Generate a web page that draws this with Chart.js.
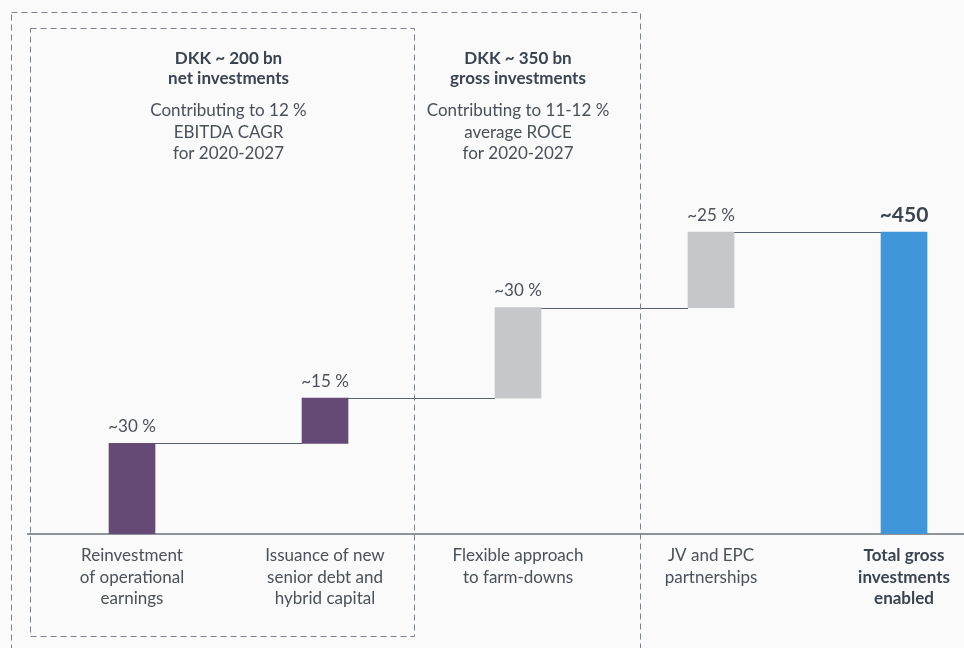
<!DOCTYPE html>
<html>
<head>
<meta charset="utf-8">
<script src="https://cdn.jsdelivr.net/npm/chart.js@4"></script>
<style>
  html, body { margin: 0; padding: 0; background: #fafafb; overflow: hidden; }
  #wrap { position: relative; width: 964px; height: 648px; }
</style>
</head>
<body>
<div id="wrap"><canvas id="c" width="964" height="648"></canvas></div>
<script>
// ---- data ----
const categories = [
  ['Reinvestment', 'of operational', 'earnings'],
  ['Issuance of new', 'senior debt and', 'hybrid capital'],
  ['Flexible approach', 'to farm-downs'],
  ['JV and EPC', 'partnerships'],
  ['Total gross', 'investments', 'enabled']
];
const barLabels = ['~30 %', '~15 %', '~30 %', '~25 %', '~450'];
const barLow  = [0, 135, 202.5, 337.5, 0];
const barHigh = [135, 202.5, 337.5, 450, 450];
const headerLeft  = ['DKK ~ 200 bn', 'net investments'];
const noteLeft    = ['Contributing to 12 %', 'EBITDA CAGR', 'for 2020-2027'];
const headerRight = ['DKK ~ 350 bn', 'gross investments'];
const noteRight   = ['Contributing to 11-12 %', 'average ROCE', 'for 2020-2027'];

const barColors = ['#644a74', '#644a74', '#c5c7cb', '#c5c7cb', '#3f97da'];
const FONT = 'Lato, "Open Sans", sans-serif';
const TXT = '#4a5059';
const DARK = '#3a4350';

const overlay = {
  id: 'overlay',
  beforeDatasetsDraw(chart) {
    const ctx = chart.ctx;
    const meta = chart.getDatasetMeta(0);
    // connector lines
    ctx.save();
    ctx.strokeStyle = '#566270';
    ctx.lineWidth = 1;
    for (let i = 0; i < meta.data.length - 1; i++) {
      const a = meta.data[i], b = meta.data[i + 1];
      const y = Math.round(chart.scales.y.getPixelForValue(barHigh[i])) + 0.5;
      ctx.beginPath();
      ctx.moveTo(a.x + a.width / 2, y);
      ctx.lineTo(b.x - b.width / 2, y);
      ctx.stroke();
    }
    ctx.restore();
  },
  afterDraw(chart) {
    const ctx = chart.ctx;
    const x = chart.scales.x;
    const meta = chart.getDatasetMeta(0);
    ctx.save();
    // dashed boxes
    ctx.setLineDash([6, 4]);
    ctx.strokeStyle = '#7a818a';
    ctx.lineWidth = 1;
    ctx.strokeRect(11.5, 12.5, 629, 660);
    ctx.strokeRect(30.5, 28.5, 384, 608);
    ctx.setLineDash([]);
    // headers
    ctx.textAlign = 'center';
    ctx.textBaseline = 'middle';
    const drawBlock = (cx, head, note) => {
      ctx.fillStyle = DARK;
      ctx.font = 'bold 17px ' + FONT;
      head.forEach((t, i) => ctx.fillText(t, cx, 59 + i * 20));
      ctx.fillStyle = TXT;
      ctx.font = '17px ' + FONT;
      note.forEach((t, i) => ctx.fillText(t, cx, 111 + i * 21.5));
    };
    drawBlock(x.getPixelForValue(0.5), headerLeft, noteLeft);
    drawBlock(x.getPixelForValue(2), headerRight, noteRight);
    // bar labels
    meta.data.forEach((bar, i) => {
      const last = i === meta.data.length - 1;
      ctx.fillStyle = last ? DARK : TXT;
      ctx.font = (last ? 'bold 21px ' : '17px ') + FONT;
      ctx.fillText(barLabels[i], bar.x, bar.y - 17);
    });
    ctx.restore();
  }
};

new Chart(document.getElementById('c'), {
  type: 'bar',
  data: {
    datasets: [{
      data: categories.map((c, i) => ({ x: i, y: [barLow[i], barHigh[i]] })),
      backgroundColor: barColors,
      borderWidth: 0,
      borderSkipped: false,
      barThickness: 46
    }]
  },
  options: {
    responsive: false,
    animation: false,
    events: [],
    layout: { padding: { left: 28, right: 0, top: 0, bottom: 0 } },
    plugins: { legend: { display: false }, tooltip: { enabled: false } },
    scales: {
      x: {
        type: 'linear',
        min: -0.5389,
        max: 4.3108,
        offset: false,
        afterBuildTicks: (axis) => { axis.ticks = categories.map((_, i) => ({ value: i })); },
        afterFit: (axis) => { axis.height = 114; },
        grid: { display: false, drawTicks: false },
        border: { display: true, color: '#8d939b', width: 2 },
        ticks: {
          autoSkip: false,
          maxRotation: 0,
          padding: 11,
          color: (ctx) => ctx.index === 4 ? DARK : TXT,
          font: (ctx) => ({ family: FONT, size: 17, weight: ctx.index === 4 ? 'bold' : 'normal', lineHeight: 1.27 }),
          callback: (v) => categories[v] || ''
        }
      },
      y: {
        display: false,
        min: 0,
        max: 796
      }
    }
  },
  plugins: [overlay]
});
</script>
</body>
</html>
